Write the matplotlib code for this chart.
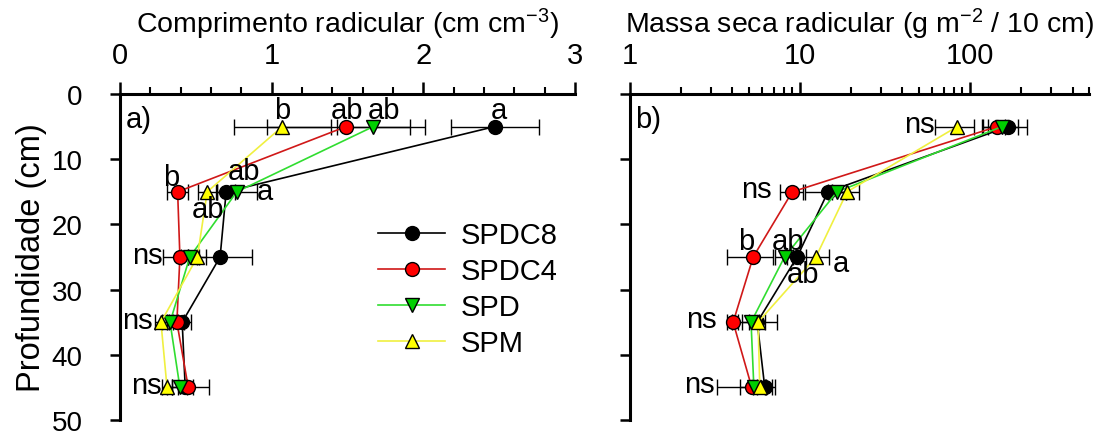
import matplotlib
matplotlib.use("Agg")
import matplotlib.pyplot as plt
from matplotlib.ticker import MultipleLocator, FixedLocator, LogLocator, NullFormatter

plt.rcParams["font.family"] = ["Liberation Sans", "DejaVu Sans"]
plt.rcParams["mathtext.default"] = "regular"

# ---- data -------------------------------------------------------------
depth = [5, 15, 25, 35, 45]
series = ["SPDC8", "SPDC4", "SPD", "SPM"]

# root length density (cm cm-3)
comp_spdc8 = [2.47, 0.70, 0.66, 0.41, 0.43]
comp_spdc4 = [1.49, 0.38, 0.395, 0.375, 0.45]
comp_spd = [1.67, 0.77, 0.46, 0.33, 0.395]
comp_spm = [1.07, 0.575, 0.51, 0.27, 0.31]
comp_err_spdc8 = [0.29, 0.06, 0.21, 0.06, 0.05]
comp_err_spdc4 = [0.52, 0.07, 0.11, 0.05, 0.14]
comp_err_spd = [0.24, 0.13, 0.06, 0.05, 0.05]
comp_err_spm = [0.32, 0.06, 0.06, 0.04, 0.03]

# root dry mass (g m-2 / 10 cm)
massa_spdc8 = [167, 14.6, 9.6, 5.6, 6.2]
massa_spdc4 = [144, 9.0, 5.3, 4.04, 5.2]
massa_spd = [154, 16.5, 8.1, 5.15, 5.35]
massa_spm = [84, 18.9, 12.4, 5.66, 5.8]
massa_err_spdc8 = [48, 3.9, 1.2, 0.6, 0.6]
massa_err_spdc4 = [16, 1.4, 1.6, 0.3, 1.95]
massa_err_spd = [37, 2.0, 1.0, 0.6, 0.9]
massa_err_spm = [22, 3.4, 2.4, 1.7, 0.5]

# significance letters: (series, depth index, text)
comp_letters = [
    ("SPM", 0, "b"), ("SPDC4", 0, "ab"), ("SPD", 0, "ab"), ("SPDC8", 0, "a"),
    ("SPDC4", 1, "b"), ("SPDC8", 1, "ab"), ("SPD", 1, "a"), ("SPM", 1, "ab"),
    ("SPDC4", 2, "ns"), ("SPM", 3, "ns"), ("SPM", 4, "ns"),
]
massa_letters = [
    ("SPM", 0, "ns"), ("SPDC4", 1, "ns"),
    ("SPDC4", 2, "b"), ("SPD", 2, "ab"), ("SPM", 2, "a"), ("SPDC8", 2, "ab"),
    ("SPDC4", 3, "ns"), ("SPDC4", 4, "ns"),
]

# ---- styles -----------------------------------------------------------
styles = {
    "SPDC8": dict(marker="o", mfc="black", color="black"),
    "SPDC4": dict(marker="o", mfc="#ff0000", color="#d01818"),
    "SPD": dict(marker="v", mfc="#00d000", color="#30dd30"),
    "SPM": dict(marker="^", mfc="#ffff00", color="#f0f040"),
}
# label offsets in pixels (dx, dy, ha) keyed by (panel, series, depth index)
offsets = {
    ("a", "SPM", 0): (0, 9, "center"), ("a", "SPDC4", 0): (1, 9, "center"),
    ("a", "SPD", 0): (11, 9, "center"), ("a", "SPDC8", 0): (4, 9, "center"),
    ("a", "SPDC4", 1): (-6, 7, "center"), ("a", "SPDC8", 1): (18, 13, "center"),
    ("a", "SPD", 1): (28, -7, "center"), ("a", "SPM", 1): (1, -25, "center"),
    ("a", "SPDC4", 2): (-17, -6, "right"), ("a", "SPM", 3): (-8, -6, "right"),
    ("a", "SPM", 4): (-5, -6, "right"),
    ("b", "SPM", 0): (-23, -5, "right"), ("b", "SPDC4", 1): (-21, -5, "right"),
    ("b", "SPDC4", 2): (-7, 8, "center"), ("b", "SPD", 2): (3, 8, "center"),
    ("b", "SPM", 2): (25, -14, "center"), ("b", "SPDC8", 2): (6, -25, "center"),
    ("b", "SPDC4", 3): (-16, -5, "right"), ("b", "SPDC4", 4): (-37, -5, "right"),
}

FS = 20.5
FS_TICK = 21
FS_NOTE = 21

fig = plt.figure(figsize=(11.05, 4.35), dpi=100)
ax1 = fig.add_axes([120 / 1105, 1 - 421 / 435, 455 / 1105, 326 / 435])
ax2 = fig.add_axes([630 / 1105, 1 - 421 / 435, 459 / 1105, 326 / 435])

comp = {"SPDC8": (comp_spdc8, comp_err_spdc8), "SPDC4": (comp_spdc4, comp_err_spdc4),
        "SPD": (comp_spd, comp_err_spd), "SPM": (comp_spm, comp_err_spm)}
massa = {"SPDC8": (massa_spdc8, massa_err_spdc8), "SPDC4": (massa_spdc4, massa_err_spdc4),
         "SPD": (massa_spd, massa_err_spd), "SPM": (massa_spm, massa_err_spm)}


def draw(ax, data, letters, panel):
    for name in series:
        vals, err = data[name]
        ax.errorbar(vals, depth, xerr=err, fmt="none", ecolor="black",
                    elinewidth=1.0, capsize=6, capthick=1.0, zorder=2)
    for name in series:
        vals, err = data[name]
        st = styles[name]
        ax.plot(vals, depth, color=st["color"], lw=1.2, marker=st["marker"],
                ms=10, mfc=st["mfc"], mec="black", mew=1.0, label=name,
                zorder=3, clip_on=False)
    for name, i, txt in letters:
        dx, dy, ha = offsets[(panel, name, i)]
        ax.annotate(txt, (data[name][0][i], depth[i]), xytext=(dx, dy),
                    textcoords="offset pixels", ha=ha, va="baseline",
                    fontsize=FS_NOTE, zorder=5)
    ax.set_ylim(50, 0)
    ax.yaxis.set_major_locator(MultipleLocator(10))
    ax.xaxis.tick_top()
    ax.xaxis.set_label_position("top")
    for s in ("right", "bottom"):
        ax.spines[s].set_visible(False)
    for s in ("top", "left"):
        ax.spines[s].set_linewidth(2.2)
    ax.tick_params(axis="x", which="major", direction="out", length=9, width=1.8,
                   labelsize=FS_TICK, pad=9)
    ax.tick_params(axis="x", which="minor", direction="out", length=5, width=1.5)
    ax.tick_params(axis="y", which="major", direction="out", length=7, width=1.8,
                   labelsize=20, pad=20)
    ax.text(0.012, 0.965, panel + ")", transform=ax.transAxes, ha="left",
            va="top", fontsize=FS_NOTE)


draw(ax1, comp, comp_letters, "a")
ax1.set_xlim(0, 3)
ax1.xaxis.set_major_locator(MultipleLocator(1))
ax1.xaxis.set_minor_locator(MultipleLocator(0.2))
ax1.set_xlabel("Comprimento radicular (cm cm$^{-3}$)", fontsize=FS, labelpad=6)
ax1.set_ylabel("Profundidade (cm)", fontsize=23.5, labelpad=3)
ax1.legend(loc="upper left", bbox_to_anchor=(0.567, 0.61), frameon=False,
           fontsize=21, handlelength=2.3, handletextpad=0.55, labelspacing=0.27,
           borderpad=0, borderaxespad=0)

draw(ax2, massa, massa_letters, "b")
ax2.set_xscale("log")
ax2.set_xlim(1, 500)
ax2.xaxis.set_major_locator(FixedLocator([1, 10, 100]))
ax2.xaxis.set_minor_locator(LogLocator(base=10, subs=range(2, 10), numticks=20))
ax2.xaxis.set_minor_formatter(NullFormatter())
ax2.set_xticklabels(["1", "10", "100"])
ax2.set_yticklabels([])
ax2.set_xlabel("Massa seca radicular (g m$^{-2}$ / 10 cm)", fontsize=FS, labelpad=6)

fig.savefig("out.png", dpi=100)
